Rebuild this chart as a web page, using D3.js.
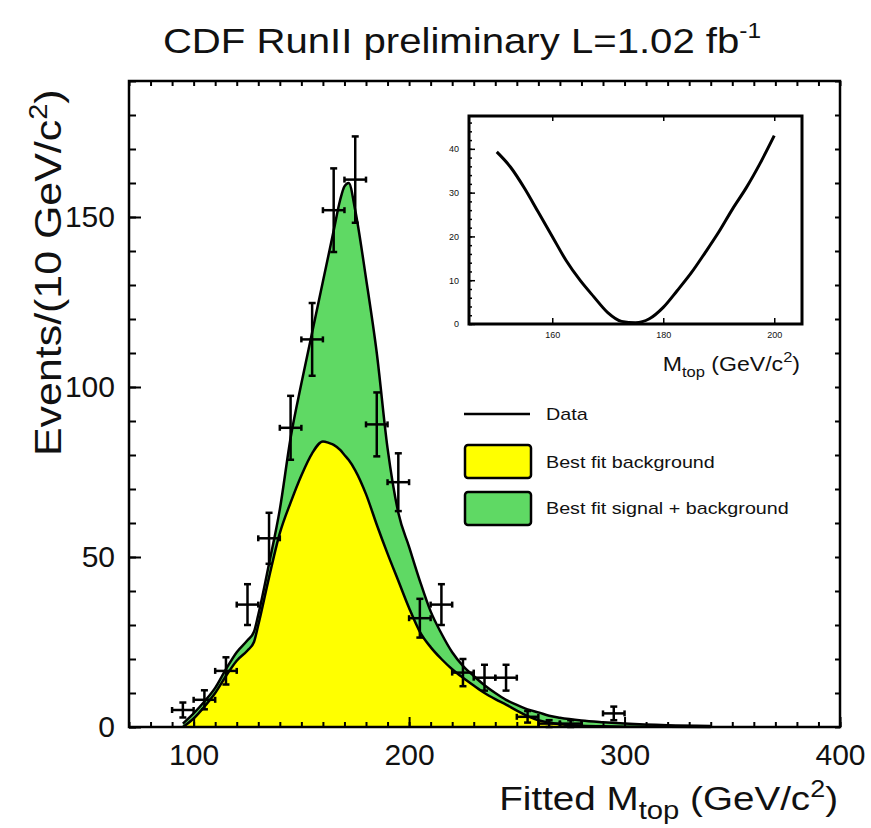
<!DOCTYPE html>
<html>
<head>
<meta charset="utf-8">
<script src="https://cdn.jsdelivr.net/npm/d3@7"></script>
<style>
  body { margin: 0; background: #fff; }
  text { font-family: "Liberation Sans", Arial, Helvetica, sans-serif; fill: #111; }
</style>
</head>
<body>
<div id="chart"></div>
<script>
// Data points (bin centres in GeV/c^2, events per 10 GeV/c^2, errors)
const binCenters = [95, 105, 115, 125, 135, 145, 155, 165, 175, 185, 195, 205, 215, 225, 235, 245, 255, 265, 275, 295];
const binCounts  = [5, 8, 16.5, 36, 55.5, 88, 114, 152, 161, 89, 72, 32, 36, 16, 14.5, 14.5, 3, 1, 1, 4];
const binErrors  = [2.2, 2.8, 4, 6, 7.5, 9.4, 10.7, 12.3, 12.7, 9.4, 8.5, 5.7, 6, 4, 3.8, 3.8, 1.7, 1, 1, 2];
const binHalfWidth = 5;

// Fit curves
const fitMass      = [95, 100, 105, 110, 115, 120, 125, 128, 130, 135, 140, 145, 150, 155, 160, 163, 165, 168, 170, 172, 175, 180, 185, 190, 195, 200, 205, 210, 215, 220, 225, 230, 235, 240, 245, 250, 255, 260, 265, 270, 280, 290, 300, 320, 340];
const fitSignalBkg = [1, 4, 7.5, 11.5, 17, 22, 25.5, 28, 33, 48, 64, 85, 101, 116, 131, 140, 146, 155, 159, 160, 152, 132, 110, 82, 63, 53, 43, 34, 27.5, 22, 18, 15, 12.3, 10, 8, 6.5, 5.2, 4.3, 3.3, 2.7, 1.9, 1.4, 1.0, 0.5, 0.3];
const fitBkg       = [0, 2.5, 6, 10, 15, 19.5, 22.5, 25, 30, 44, 57, 66, 74, 80.5, 84, 83.5, 83, 81.5, 80, 78.5, 75.5, 68.5, 59.5, 51, 43, 35, 28, 23.5, 20, 17, 14.5, 12.2, 10, 8.2, 6.6, 4.8, 3.2, 2, 1.3, 0.8, 0.4, 0.2, 0.1, 0.05, 0];

// Inset: likelihood scan vs M_top
const insetMass  = [150, 152.5, 155, 157.5, 160, 162.5, 165, 167.5, 170, 172.5, 175, 177.5, 180, 182.5, 185, 187.5, 190, 192.5, 195, 197.5, 200];
const insetValue = [39.3, 35.8, 31.0, 25.5, 20.0, 14.5, 10.0, 6.2, 2.6, 0.6, 0.3, 1.2, 3.8, 7.6, 11.6, 16.2, 21.0, 26.3, 31.2, 36.8, 43.0];

// Axis ticks
const xMajorTicks = [100, 200, 300, 400];
const xMinorTicks = d3.range(70, 401, 10);
const yMajorTicks = [0, 50, 100, 150];
const yMinorTicks = d3.range(0, 191, 10);
const insetXTicks = [160, 180, 200];
const insetYTicks = [0, 10, 20, 30, 40];
const insetYMinor = d3.range(0, 47, 2);

const legendItems = ["Data", "Best fit background", "Best fit signal + background"];

const width = 871, height = 828;
const margin = { top: 81, right: 31, bottom: 101, left: 129 };
const innerW = width - margin.left - margin.right;
const innerH = height - margin.top - margin.bottom;

const svg = d3.select("#chart").append("svg")
  .attr("width", width).attr("height", height);

// text placed in a group so it can be stretched horizontally like the original
function label(parent, tx, ty, size, anchor, sx, rotate) {
  const grp = parent.append("g")
    .attr("transform", `translate(${tx},${ty})${rotate ? " rotate(-90)" : ""} scale(${sx},1)`);
  return grp.append("text").attr("text-anchor", anchor).attr("font-size", size);
}

const g = svg.append("g").attr("transform", `translate(${margin.left},${margin.top})`);

const x = d3.scaleLinear().domain([70, 400]).range([0, innerW]);
const y = d3.scaleLinear().domain([0, 190]).range([innerH, 0]);

const upper = fitMass.map((m, i) => ({ m, v: fitSignalBkg[i] }));
const lower = fitMass.map((m, i) => ({ m, v: fitBkg[i] }));

const area = d3.area().x(d => x(d.m)).y0(y(0)).y1(d => y(d.v)).curve(d3.curveMonotoneX);
const line = d3.line().x(d => x(d.m)).y(d => y(d.v)).curve(d3.curveMonotoneX);

g.append("path").datum(upper).attr("d", area).attr("fill", "#5fd964");
g.append("path").datum(lower).attr("d", area).attr("fill", "#ffff00");
g.append("path").datum(upper).attr("d", line).attr("fill", "none").attr("stroke", "#000").attr("stroke-width", 2.5);
g.append("path").datum(lower).attr("d", line).attr("fill", "none").attr("stroke", "#000").attr("stroke-width", 2.5);

// Error bars
const points = binCenters.map((c, i) => ({ c, n: binCounts[i], e: binErrors[i] }));
const pg = g.append("g").attr("stroke", "#000").attr("stroke-width", 2.5).attr("fill", "none");
points.forEach(p => {
  const cx = x(p.c), cy = y(p.n);
  const x0 = x(p.c - binHalfWidth), x1 = x(p.c + binHalfWidth);
  const yt = y(p.n + p.e), yb = y(Math.max(0, p.n - p.e));
  pg.append("line").attr("x1", x0).attr("x2", x1).attr("y1", cy).attr("y2", cy);
  pg.append("line").attr("x1", cx).attr("x2", cx).attr("y1", yt).attr("y2", yb);
  pg.append("line").attr("x1", cx - 3.5).attr("x2", cx + 3.5).attr("y1", yt).attr("y2", yt);
  pg.append("line").attr("x1", cx - 3.5).attr("x2", cx + 3.5).attr("y1", yb).attr("y2", yb);
  pg.append("line").attr("x1", x0).attr("x2", x0).attr("y1", cy - 3).attr("y2", cy + 3);
  pg.append("line").attr("x1", x1).attr("x2", x1).attr("y1", cy - 3).attr("y2", cy + 3);
});

// Axes (ticks inward)
function styleAxis(sel) {
  sel.select(".domain").remove();
  sel.selectAll(".tick line").attr("stroke", "#000").attr("stroke-width", 2);
  sel.selectAll(".tick text").attr("font-size", 30).attr("fill", "#111")
    .style("font-family", '"Liberation Sans", Arial, sans-serif');
}

g.append("g").attr("transform", `translate(0,${innerH})`)
  .call(d3.axisBottom(x).tickValues(xMinorTicks).tickSize(-5).tickFormat(""))
  .call(styleAxis);
g.append("g").attr("transform", `translate(0,${innerH})`)
  .call(d3.axisBottom(x).tickValues(xMajorTicks).tickSize(-10).tickPadding(17).tickFormat(d3.format("d")))
  .call(styleAxis);
g.append("g")
  .call(d3.axisTop(x).tickValues(xMinorTicks).tickSize(-5).tickFormat(""))
  .call(styleAxis);
g.append("g")
  .call(d3.axisLeft(y).tickValues(yMinorTicks).tickSize(-7).tickFormat(""))
  .call(styleAxis);
g.append("g")
  .call(d3.axisLeft(y).tickValues(yMajorTicks).tickSize(-12).tickPadding(14).tickFormat(d3.format("d")))
  .call(styleAxis);
g.append("g").attr("transform", `translate(${innerW},0)`)
  .call(d3.axisRight(y).tickValues(yMinorTicks).tickSize(-5).tickFormat(""))
  .call(styleAxis);

g.append("rect").attr("width", innerW).attr("height", innerH)
  .attr("fill", "none").attr("stroke", "#000").attr("stroke-width", 2.5);

// Title and axis labels
const title = label(svg, 462, 53, 36, "middle", 1.115, false);
title.append("tspan").text("CDF RunII preliminary L=1.02 fb");
title.append("tspan").attr("font-size", 22).attr("dy", -15).text("-1");

const xl = label(svg, 838, 810, 33, "end", 1.17, false);
xl.append("tspan").text("Fitted M");
xl.append("tspan").attr("font-size", 25).attr("dy", 9).text("top");
xl.append("tspan").attr("dy", -9).text(" (GeV/c");
xl.append("tspan").attr("font-size", 23).attr("dy", -13).text("2");
xl.append("tspan").attr("dy", 13).text(")");

const yl = label(svg, 61, 456, 37, "start", 1.16, true);
yl.append("tspan").text("Events/(10 GeV/c");
yl.append("tspan").attr("font-size", 25).attr("dy", -14).text("2");
yl.append("tspan").attr("dy", 14).text(")");

// Legend
const lg = svg.append("g");
lg.append("line").attr("x1", 464).attr("x2", 530).attr("y1", 414).attr("y2", 414)
  .attr("stroke", "#000").attr("stroke-width", 2.5);
lg.append("rect").attr("x", 465).attr("y", 445).attr("width", 66).attr("height", 33).attr("rx", 3)
  .attr("fill", "#ffff00").attr("stroke", "#000").attr("stroke-width", 2.5);
lg.append("rect").attr("x", 465).attr("y", 492).attr("width", 66).attr("height", 33).attr("rx", 3)
  .attr("fill", "#5fd964").attr("stroke", "#000").attr("stroke-width", 2.5);
[414, 462, 508].forEach((ty, i) => {
  label(lg, 546, ty, 17, "start", 1.16, false).attr("dy", "0.35em").text(legendItems[i]);
});

// Inset
const inset = { left: 469, top: 116, right: 802, bottom: 324 };
const ix = d3.scaleLinear().domain([145, 205]).range([inset.left, inset.right]);
const iy = d3.scaleLinear().domain([0, 47.5]).range([inset.bottom, inset.top]);
svg.append("rect").attr("x", inset.left).attr("y", inset.top)
  .attr("width", inset.right - inset.left).attr("height", inset.bottom - inset.top).attr("fill", "#fff");

const scan = insetMass.map((m, i) => ({ m, v: insetValue[i] }));
svg.append("path").datum(scan)
  .attr("d", d3.line().x(d => ix(d.m)).y(d => iy(d.v)).curve(d3.curveMonotoneX))
  .attr("fill", "none").attr("stroke", "#000").attr("stroke-width", 3);

function styleInsetAxis(sel) {
  sel.select(".domain").remove();
  sel.selectAll(".tick line").attr("stroke", "#000").attr("stroke-width", 1.5);
  sel.selectAll(".tick text").attr("font-size", 9).attr("fill", "#444")
    .style("font-family", '"Liberation Sans", Arial, sans-serif');
}
svg.append("g").attr("transform", `translate(0,${inset.bottom})`)
  .call(d3.axisBottom(ix).tickValues(insetXTicks).tickSize(-6).tickPadding(8).tickFormat(d3.format("d")))
  .call(styleInsetAxis);
svg.append("g").attr("transform", `translate(0,${inset.top})`)
  .call(d3.axisTop(ix).tickValues(insetXTicks).tickSize(-5).tickFormat(""))
  .call(styleInsetAxis);
svg.append("g").attr("transform", `translate(${inset.left},0)`)
  .call(d3.axisLeft(iy).tickValues(insetYMinor).tickSize(-3).tickFormat(""))
  .call(styleInsetAxis);
svg.append("g").attr("transform", `translate(${inset.left},0)`)
  .call(d3.axisLeft(iy).tickValues(insetYTicks).tickSize(-6).tickPadding(10).tickFormat(d3.format("d")))
  .call(styleInsetAxis);

svg.append("rect").attr("x", inset.left).attr("y", inset.top)
  .attr("width", inset.right - inset.left).attr("height", inset.bottom - inset.top)
  .attr("fill", "none").attr("stroke", "#000").attr("stroke-width", 3);

const il = label(svg, 800, 371, 21, "end", 1.1, false);
il.append("tspan").text("M");
il.append("tspan").attr("font-size", 15).attr("dy", 6).text("top");
il.append("tspan").attr("dy", -6).text(" (GeV/c");
il.append("tspan").attr("font-size", 15).attr("dy", -9).text("2");
il.append("tspan").attr("dy", 9).text(")");
</script>
</body>
</html>
